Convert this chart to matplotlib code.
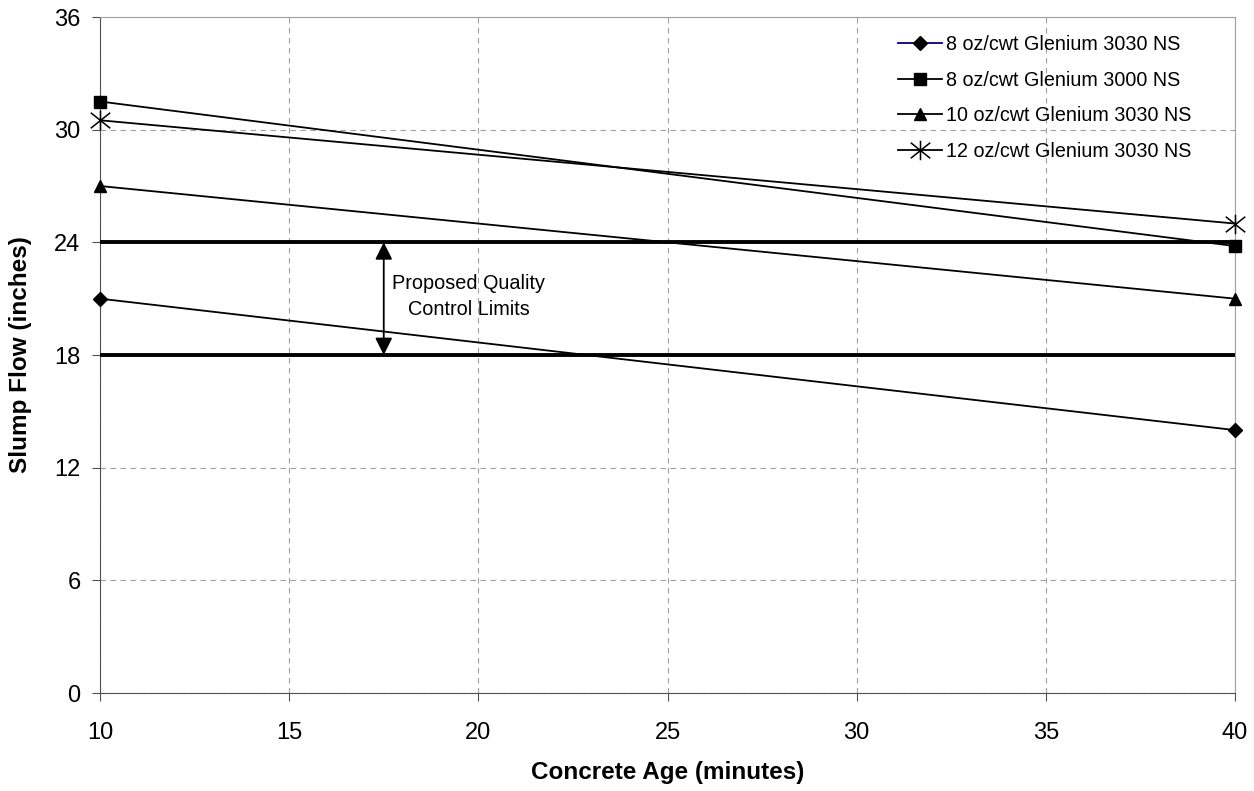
import numpy as np
import matplotlib.pyplot as plt
from matplotlib.path import Path

plt.rcParams['font.family'] = ['Liberation Sans', 'DejaVu Sans']

age = [10, 40]
flow_8_3030 = [21, 14]
flow_8_3000 = [31.5, 23.8]
flow_10_3030 = [27, 21]
flow_12_3030 = [30.5, 25]
labels = ["8 oz/cwt Glenium 3030 NS", "8 oz/cwt Glenium 3000 NS",
          "10 oz/cwt Glenium 3030 NS", "12 oz/cwt Glenium 3030 NS"]
qc_limits = [24, 18]

# asterisk marker: X plus vertical bar
star = Path([(-1, -0.8), (1, 0.8), (-1, 0.8), (1, -0.8), (0, -1), (0, 1)],
            [Path.MOVETO, Path.LINETO, Path.MOVETO, Path.LINETO, Path.MOVETO, Path.LINETO])

fig = plt.figure(figsize=(12.54, 7.91), dpi=100)
ax = fig.add_axes([100 / 1254, 1 - 693 / 791, 1135 / 1254, 676 / 791])

kw = dict(color='black', lw=1.3, clip_on=False, zorder=4)
ax.plot(age, flow_8_3030, marker='D', ms=7, label=labels[0], **kw)
ax.plot(age, flow_8_3000, marker='s', ms=8, label=labels[1], **kw)
ax.plot(age, flow_10_3030, marker='^', ms=9, label=labels[2], **kw)
ax.plot(age, flow_12_3030, marker=star, ms=14, mew=1.1, mfc='none', label=labels[3], **kw)

for y in qc_limits:
    ax.axhline(y, color='black', lw=2.8, zorder=3)

ax.annotate('', xy=(17.5, 24), xytext=(17.5, 18),
            arrowprops=dict(arrowstyle='<|-|>', color='black', lw=1.3,
                            mutation_scale=26, shrinkA=0, shrinkB=0))
ax.text(19.75, 21.1, 'Proposed Quality\nControl Limits', ha='center', va='center',
        fontsize=14.3, linespacing=1.45)

ax.set_xlim(10, 40)
ax.set_ylim(0, 36)
ax.set_xticks(np.arange(10, 41, 5))
ax.set_yticks(np.arange(0, 37, 6))
ax.grid(True, color='#a0a0a0', ls=(0, (5, 4)), lw=0.8)
ax.tick_params(labelsize=17, length=6, color='#505050', direction='out')
ax.tick_params(axis='x', pad=15)
ax.tick_params(axis='y', pad=8)
ax.spines['left'].set_color('#505050')
ax.spines['bottom'].set_color('#505050')
ax.spines['right'].set_color('#a0a0a0')
ax.spines['top'].set_color('#a0a0a0')
ax.set_xlabel('Concrete Age (minutes)', fontsize=17.5, fontweight='bold', labelpad=12)
ax.set_ylabel('Slump Flow (inches)', fontsize=17.5, fontweight='bold', labelpad=16)

leg = ax.legend(loc='upper right', frameon=False, fontsize=14.2, handlelength=2.2,
                handletextpad=0.2, labelspacing=0.85, bbox_to_anchor=(0.977, 1.0))
leg.legend_handles[0].set_color('#000080')
leg.legend_handles[0].set_markerfacecolor('black')
leg.legend_handles[0].set_markeredgecolor('black')

fig.savefig('out.png', dpi=100)
